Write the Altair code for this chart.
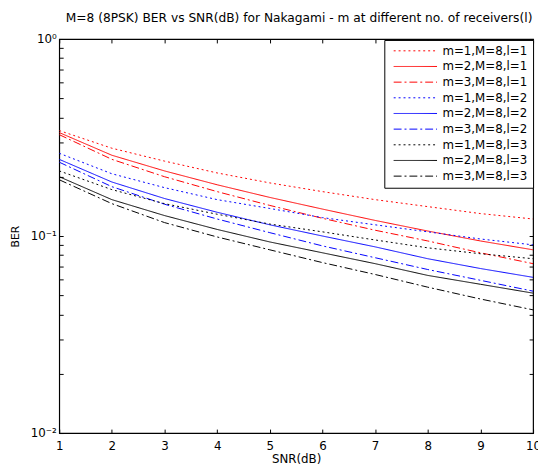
import altair as alt
import pandas as pd

# ---- data ----
snr = [1, 2, 3, 4, 5, 6, 7, 8, 9, 10]

ber_m1_l1 = [0.343, 0.279, 0.240, 0.209, 0.186, 0.168, 0.153, 0.141, 0.130, 0.122]
ber_m2_l1 = [0.335, 0.257, 0.214, 0.182, 0.157, 0.137, 0.120, 0.106, 0.0944, 0.0851]
ber_m3_l1 = [0.327, 0.245, 0.200, 0.168, 0.143, 0.123, 0.107, 0.0944, 0.0822, 0.0724]
ber_m1_l2 = [0.263, 0.207, 0.176, 0.153, 0.138, 0.124, 0.114, 0.105, 0.0966, 0.0902]
ber_m2_l2 = [0.245, 0.188, 0.155, 0.132, 0.114, 0.100, 0.0881, 0.0767, 0.0684, 0.0617]
ber_m3_l2 = [0.237, 0.178, 0.145, 0.122, 0.104, 0.0891, 0.0776, 0.0676, 0.0596, 0.0525]
ber_m1_l3 = [0.214, 0.172, 0.146, 0.129, 0.115, 0.105, 0.0955, 0.0871, 0.0813, 0.0767]
ber_m2_l3 = [0.200, 0.153, 0.127, 0.108, 0.0933, 0.0822, 0.0724, 0.0631, 0.0569, 0.0513]
ber_m3_l3 = [0.193, 0.146, 0.117, 0.0989, 0.0851, 0.0733, 0.0638, 0.0550, 0.0479, 0.0422]

series_labels = [
    "m=1,M=8,l=1", "m=2,M=8,l=1", "m=3,M=8,l=1",
    "m=1,M=8,l=2", "m=2,M=8,l=2", "m=3,M=8,l=2",
    "m=1,M=8,l=3", "m=2,M=8,l=3", "m=3,M=8,l=3",
]
series_values = [ber_m1_l1, ber_m2_l1, ber_m3_l1,
                 ber_m1_l2, ber_m2_l2, ber_m3_l2,
                 ber_m1_l3, ber_m2_l3, ber_m3_l3]
series_colors = ["#ff0000"] * 3 + ["#0000ff"] * 3 + ["#000000"] * 3
series_dashes = [[2, 3], [1, 0], [8, 3, 2, 3]] * 3

x_ticks = [1, 2, 3, 4, 5, 6, 7, 8, 9, 10]
y_ticks = [0.01, 0.02, 0.03, 0.04, 0.05, 0.06, 0.07, 0.08, 0.09,
           0.1, 0.2, 0.3, 0.4, 0.5, 0.6, 0.7, 0.8, 0.9, 1]

title_text = "M=8 (8PSK) BER vs SNR(dB) for Nakagami - m at different no. of receivers(l)"

rows = []
for lab, vals in zip(series_labels, series_values):
    for x, v in zip(snr, vals):
        rows.append({"snr": x, "ber": v, "series": lab})
df = pd.DataFrame(rows)

FONT = "DejaVu Sans"
W, H = 481, 400

xscale = alt.Scale(domain=[1, 10], nice=False, zero=False)
yscale = alt.Scale(type="log", domain=[0.01, 1], nice=False)

ylabel_expr = ("abs(datum.value-1) < 1e-9 ? '10\u2070' : "
               "(abs(datum.value-0.1) < 1e-9 ? '10\u207b\u00b9' : "
               "(abs(datum.value-0.01) < 1e-9 ? '10\u207b\u00b2' : ''))")

legend = alt.Legend(
    title=None, orient="none", legendX=330, legendY=1,
    strokeColor="black", fillColor="white", padding=5,
    symbolType="stroke", symbolSize=1936, symbolStrokeWidth=1,
    clipHeight=12,
    labelFont=FONT, labelFontSize=12, labelColor="black",
    rowPadding=3.9, symbolOffset=4, labelOffset=5, labelLimit=300,
    cornerRadius=0,
)

lines = alt.Chart(df).mark_line(strokeWidth=1, clip=True).encode(
    x=alt.X("snr:Q", scale=xscale,
            axis=alt.Axis(orient="bottom", values=x_ticks, title="SNR(dB)",
                          domain=False, tickSize=4, offset=-4, tickColor="black",
                          labelPadding=8, labelFont=FONT, labelFontSize=12,
                          labelColor="black", titleFont=FONT, titleFontSize=12,
                          titleFontWeight="normal", titleColor="black",
                          titlePadding=2, grid=False, labelFlush=False)),
    y=alt.Y("ber:Q", scale=yscale,
            axis=alt.Axis(orient="left", values=y_ticks, title="BER",
                          labelExpr=ylabel_expr, domain=False, tickSize=4,
                          offset=-4, tickColor="black", labelPadding=3,
                          labelFont=FONT, labelFontSize=12, labelColor="black",
                          titleFont=FONT, titleFontSize=11,
                          titleFontWeight="normal", titleColor="black",
                          titlePadding=10, grid=False)),
    color=alt.Color("series:N", sort=series_labels,
                    scale=alt.Scale(domain=series_labels, range=series_colors),
                    legend=legend),
    strokeDash=alt.StrokeDash("series:N", sort=series_labels,
                              scale=alt.Scale(domain=series_labels, range=series_dashes),
                              legend=legend),
)

frame_axes = alt.Chart(df).mark_line(opacity=0).encode(
    x=alt.X("snr:Q", scale=xscale,
            axis=alt.Axis(orient="top", values=x_ticks, title=None, labels=False,
                          domain=False, tickSize=4, offset=-4, tickColor="black",
                          grid=False)),
    y=alt.Y("ber:Q", scale=yscale,
            axis=alt.Axis(orient="right", values=y_ticks, title=None, labels=False,
                          domain=False, tickSize=4, offset=-4, tickColor="black",
                          grid=False)),
    detail="series:N",
)

chart = alt.layer(lines, frame_axes).resolve_axis(
    x="independent", y="independent"
).properties(
    width=W, height=H,
    autosize=alt.AutoSizeParams(type="none"),
    padding={"left": 52, "top": 28, "right": 5, "bottom": 31},
    background="white",
    title=alt.Title(title_text, font=FONT, fontSize=12.4, fontWeight="normal",
                    color="black", anchor="middle", frame="group", offset=9,
                    dx=3),
).configure_view(stroke="black", strokeWidth=1.2)

chart.save("out.html", embed_options={"renderer": "svg", "actions": False})
